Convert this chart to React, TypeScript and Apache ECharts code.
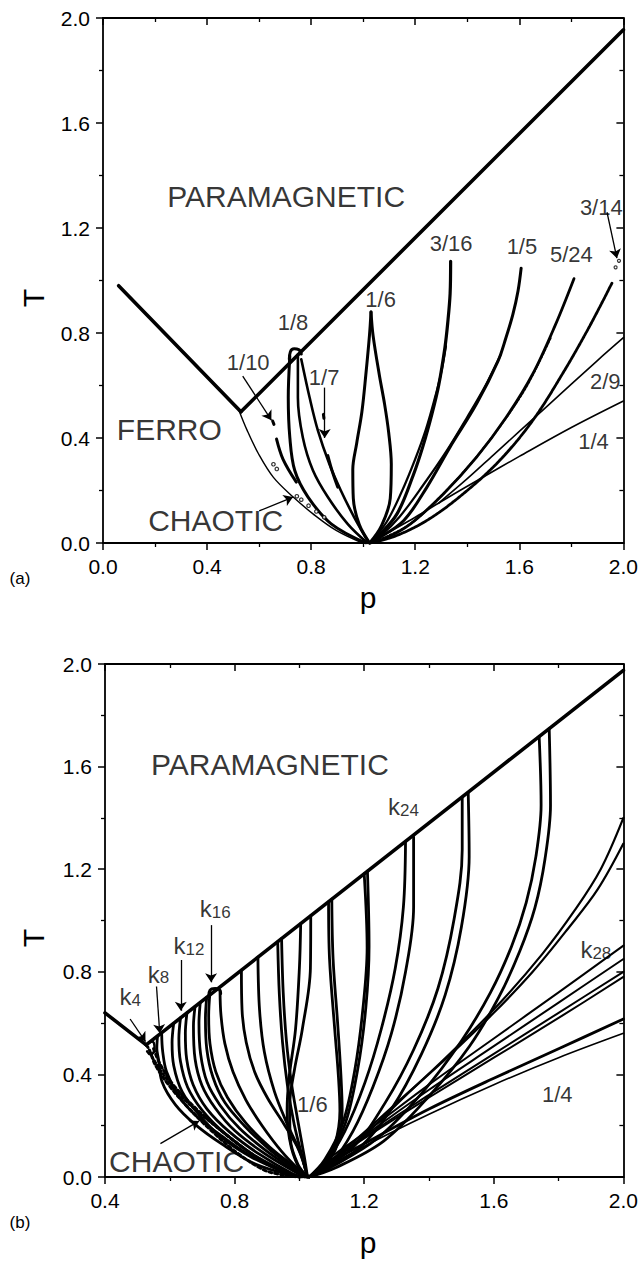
import React, { useEffect, useRef } from 'react';
import * as echarts from 'echarts';

type Pt = [number, number];
type Lbl = [string, number, number];

// ================= Panel (a) =================
const aParaLeft: Pt[] = [[0.06, 0.98], [0.53, 0.5]];
const aParaRight: Pt[] = [[0.53, 0.5], [2.0, 1.955]];
const aFerroChaotic: Pt[] = [[0.523, 0.504], [0.554, 0.429], [0.598, 0.339], [0.655, 0.25], [0.731, 0.175], [0.807, 0.111], [0.896, 0.048], [0.997, 0.0]];
const aCap18: Pt[] = [[0.716, 0.7], [0.72, 0.728], [0.735, 0.74], [0.752, 0.737], [0.762, 0.72]];
const a18Left: Pt[] = [[0.718, 0.712], [0.712, 0.554], [0.718, 0.402], [0.737, 0.276], [0.788, 0.175], [0.877, 0.073], [1.01, 0.0]];
const a18Mid: Pt[] = [[0.749, 0.718], [0.749, 0.554], [0.768, 0.402], [0.807, 0.276], [0.864, 0.175], [0.94, 0.073], [1.016, 0.0]];
const a18Right: Pt[] = [[0.762, 0.7], [0.794, 0.554], [0.826, 0.428], [0.87, 0.301], [0.914, 0.2], [0.965, 0.099], [1.022, 0.0]];
const a110Dash: Pt[] = [[0.652, 0.465], [0.657, 0.452]];
const a110Seg: Pt[] = [[0.667, 0.396], [0.692, 0.319], [0.743, 0.232]];
const a17Dash: Pt[] = [[0.847, 0.49], [0.849, 0.475]];
const a17Seg: Pt[] = [[0.864, 0.333], [0.882, 0.27], [0.902, 0.213]];
const a16Left: Pt[] = [[1.03, 0.88], [1.024, 0.79], [1.01, 0.64], [0.995, 0.5], [0.975, 0.38], [0.96, 0.28], [0.962, 0.17], [0.985, 0.07], [1.025, 0.0]];
const a16Right: Pt[] = [[1.03, 0.88], [1.038, 0.79], [1.062, 0.64], [1.082, 0.53], [1.098, 0.42], [1.108, 0.3], [1.104, 0.17], [1.07, 0.065], [1.025, 0.0]];
const a316A: Pt[] = [[1.336, 1.073], [1.334, 0.95], [1.325, 0.84], [1.314, 0.744], [1.29, 0.6], [1.264, 0.491], [1.23, 0.37], [1.194, 0.263], [1.13, 0.111], [1.054, 0.023], [1.025, 0.0]];
const a316B: Pt[] = [[1.318, 0.75], [1.3, 0.65], [1.272, 0.54], [1.24, 0.43], [1.2, 0.32], [1.15, 0.2], [1.09, 0.08], [1.025, 0.0]];
const a15A: Pt[] = [[1.607, 1.047], [1.595, 0.96], [1.575, 0.87], [1.548, 0.78], [1.518, 0.693], [1.435, 0.529], [1.333, 0.364], [1.245, 0.213], [1.156, 0.086], [1.054, 0.015], [1.025, 0.0]];
const a15B: Pt[] = [[1.53, 0.72], [1.47, 0.6], [1.4, 0.48], [1.32, 0.35], [1.23, 0.22], [1.14, 0.1], [1.07, 0.03], [1.025, 0.0]];
const a524A: Pt[] = [[1.81, 1.007], [1.739, 0.832], [1.651, 0.643], [1.549, 0.478], [1.435, 0.326], [1.308, 0.187], [1.182, 0.073], [1.08, 0.015], [1.025, 0.0]];
const a524B: Pt[] = [[1.72, 0.78], [1.63, 0.6], [1.53, 0.45], [1.42, 0.31], [1.3, 0.18], [1.17, 0.065], [1.025, 0.0]];
const a314: Pt[] = [[1.956, 0.99], [1.867, 0.82], [1.765, 0.643], [1.651, 0.466], [1.524, 0.314], [1.384, 0.187], [1.245, 0.086], [1.12, 0.025], [1.025, 0.0]];
const a314Dots: Pt[] = [[1.97, 1.05], [1.983, 1.075]];
const a29: Pt[] = [[1.29, 0.152], [1.4, 0.245], [1.5, 0.335], [1.7, 0.515], [1.9, 0.695], [2.0, 0.782]];
const a14: Pt[] = [[1.025, 0.0], [1.1, 0.042], [1.2, 0.098], [1.3, 0.158], [1.45, 0.245], [1.6, 0.33], [1.8, 0.44], [2.0, 0.541]];
const aChaosDots: Pt[] = [[0.655, 0.3], [0.668, 0.282], [0.745, 0.178], [0.762, 0.165], [0.79, 0.142], [0.82, 0.12], [0.85, 0.098]];
const aArrows: Pt[][] = [
  [[0.537, 0.636], [0.647, 0.468]],
  [[0.852, 0.592], [0.852, 0.4]],
  [[0.6, 0.122], [0.73, 0.175]],
  [[1.937, 1.26], [1.975, 1.085]],
];
const aRegionLabels: Lbl[] = [['PARAMAGNETIC', 0.704, 1.32], ['FERRO', 0.255, 0.432], ['CHAOTIC', 0.433, 0.085]];
const aFracLabels: Lbl[] = [
  ['1/10', 0.558, 0.687], ['1/8', 0.73, 0.839], ['1/7', 0.85, 0.63], ['1/6', 1.067, 0.927],
  ['3/16', 1.338, 1.14], ['1/5', 1.61, 1.13], ['5/24', 1.8, 1.1], ['3/14', 1.915, 1.28],
  ['2/9', 1.93, 0.615], ['1/4', 1.885, 0.385],
];

// ================= Panel (b) =================
const bParaLeft: Pt[] = [[0.4, 0.64], [0.527, 0.515]];
const bParaRight: Pt[] = [[0.527, 0.515], [2.0, 1.975]];
const bChaos1: Pt[] = [[0.527, 0.515], [0.536, 0.498], [0.556, 0.435], [0.597, 0.358], [0.658, 0.269], [0.729, 0.18], [0.811, 0.091], [0.892, 0.027], [0.95, 0.008], [1.0, 0.0]];
const bChaos2: Pt[] = [[0.55, 0.5], [0.57, 0.44], [0.61, 0.36], [0.67, 0.28], [0.74, 0.2], [0.82, 0.12], [0.9, 0.05], [1.0, 0.0]];
const bChaos3: Pt[] = [[0.545, 0.47], [0.58, 0.4], [0.63, 0.32], [0.7, 0.24], [0.78, 0.16], [0.86, 0.085], [0.95, 0.02]];
const bK4Knot: Pt[] = [[0.527, 0.515], [0.545, 0.528], [0.553, 0.5], [0.54, 0.478], [0.53, 0.49]];
const bK8A: Pt[] = [[0.562, 0.548], [0.56, 0.5], [0.565, 0.46], [0.576, 0.371], [0.617, 0.282], [0.678, 0.205], [0.76, 0.129], [0.862, 0.052], [0.984, 0.004]];
const bK8B: Pt[] = [[0.575, 0.555], [0.578, 0.49], [0.59, 0.41], [0.625, 0.32], [0.68, 0.24], [0.76, 0.16], [0.86, 0.075], [0.99, 0.005]];
const bT612: Pt[] = [[0.612, 0.599], [0.607, 0.524], [0.612, 0.435], [0.638, 0.333], [0.689, 0.244], [0.76, 0.154], [0.851, 0.078], [0.973, 0.008], [1.0, 0.0]];
const bT633: Pt[] = [[0.633, 0.62], [0.628, 0.54], [0.633, 0.45], [0.655, 0.35], [0.7, 0.26], [0.77, 0.17], [0.86, 0.085], [0.975, 0.01], [1.005, 0.0]];
const bT653: Pt[] = [[0.653, 0.64], [0.648, 0.56], [0.652, 0.46], [0.672, 0.36], [0.715, 0.265], [0.785, 0.175], [0.875, 0.09], [0.98, 0.012], [1.01, 0.0]];
const bT678: Pt[] = [[0.678, 0.665], [0.673, 0.588], [0.678, 0.46], [0.699, 0.358], [0.74, 0.269], [0.801, 0.18], [0.893, 0.091], [0.994, 0.014], [1.015, 0.0]];
const bT694: Pt[] = [[0.694, 0.681], [0.69, 0.6], [0.695, 0.48], [0.715, 0.37], [0.755, 0.28], [0.815, 0.19], [0.9, 0.1], [0.995, 0.018], [1.018, 0.0]];
const bT714: Pt[] = [[0.714, 0.7], [0.71, 0.62], [0.714, 0.5], [0.733, 0.39], [0.77, 0.29], [0.83, 0.2], [0.91, 0.105], [1.0, 0.02], [1.02, 0.0]];
const bCap16: Pt[] = [[0.72, 0.705], [0.724, 0.728], [0.74, 0.735], [0.752, 0.732], [0.757, 0.715]];
const bK16L: Pt[] = [[0.724, 0.72], [0.72, 0.63], [0.724, 0.52], [0.742, 0.41], [0.778, 0.31], [0.835, 0.21], [0.91, 0.115], [1.0, 0.025], [1.022, 0.0]];
const bK16R: Pt[] = [[0.755, 0.725], [0.758, 0.63], [0.77, 0.52], [0.795, 0.41], [0.835, 0.3], [0.885, 0.2], [0.945, 0.1], [1.005, 0.02], [1.024, 0.0]];
const bT821: Pt[] = [[0.821, 0.806], [0.823, 0.651], [0.836, 0.524], [0.862, 0.409], [0.902, 0.307], [0.953, 0.205], [0.999, 0.103], [1.025, 0.0]];
const bT872: Pt[] = [[0.872, 0.857], [0.877, 0.651], [0.892, 0.486], [0.923, 0.333], [0.963, 0.205], [1.004, 0.091], [1.025, 0.0]];
const bT933: Pt[] = [[0.933, 0.917], [0.938, 0.715], [0.948, 0.524], [0.963, 0.358], [0.984, 0.205], [1.009, 0.078], [1.025, 0.0]];
const bT945: Pt[] = [[0.945, 0.929], [0.95, 0.72], [0.96, 0.53], [0.975, 0.37], [0.995, 0.22], [1.015, 0.08], [1.025, 0.0]];
const bT1004: Pt[] = [[1.004, 0.988], [1.0, 0.815], [0.988, 0.576], [0.968, 0.385], [0.962, 0.258], [0.975, 0.115], [1.009, 0.01], [1.025, 0.0]];
const b16L: Pt[] = [[1.035, 1.018], [1.034, 0.815], [1.009, 0.576], [0.985, 0.42], [0.97, 0.28], [0.972, 0.15], [0.995, 0.05], [1.025, 0.0]];
const b16R: Pt[] = [[1.09, 1.073], [1.093, 0.85], [1.109, 0.576], [1.12, 0.4], [1.125, 0.258], [1.11, 0.13], [1.075, 0.045], [1.03, 0.0]];
const b16R2: Pt[] = [[1.1, 1.083], [1.104, 0.85], [1.118, 0.6], [1.128, 0.4], [1.132, 0.26], [1.118, 0.13], [1.08, 0.045], [1.03, 0.0]];
const bT120: Pt[] = [[1.2, 1.182], [1.209, 0.894], [1.196, 0.656], [1.171, 0.417], [1.134, 0.21], [1.078, 0.067], [1.03, 0.0]];
const bT121: Pt[] = [[1.21, 1.192], [1.215, 0.9], [1.205, 0.66], [1.18, 0.42], [1.142, 0.21], [1.085, 0.067], [1.03, 0.0]];
const bT133: Pt[] = [[1.3275, 1.306], [1.321, 1.053], [1.296, 0.815], [1.2525, 0.576], [1.2025, 0.369], [1.14, 0.178], [1.0775, 0.051], [1.03, 0.0]];
const bT135: Pt[] = [[1.3525, 1.326], [1.3525, 1.053], [1.3275, 0.799], [1.284, 0.56], [1.2275, 0.353], [1.165, 0.178], [1.096, 0.051], [1.03, 0.0]];
const bT150: Pt[] = [[1.5025, 1.479], [1.5025, 1.276], [1.4775, 1.006], [1.4275, 0.735], [1.3525, 0.496], [1.265, 0.29], [1.165, 0.115], [1.03, 0.0]];
const bT152: Pt[] = [[1.521, 1.499], [1.524, 1.25], [1.5, 0.975], [1.45, 0.71], [1.377, 0.48], [1.284, 0.265], [1.178, 0.106], [1.03, 0.0]];
const bT174: Pt[] = [[1.74, 1.717], [1.746, 1.45], [1.73, 1.25], [1.7, 1.07], [1.655, 0.9], [1.59, 0.72], [1.5, 0.53], [1.38, 0.33], [1.24, 0.15], [1.1, 0.04], [1.03, 0.0]];
const bT177: Pt[] = [[1.771, 1.747], [1.775, 1.45], [1.758, 1.24], [1.727, 1.05], [1.68, 0.88], [1.615, 0.7], [1.525, 0.51], [1.4, 0.315], [1.26, 0.14], [1.11, 0.035], [1.03, 0.0]];
const bEdge140: Pt[] = [[1.03, 0.0], [1.18, 0.14], [1.33, 0.32], [1.48, 0.5], [1.62, 0.68], [1.75, 0.87], [1.85, 1.04], [1.93, 1.2], [2.0, 1.4]];
const bEdge130: Pt[] = [[1.03, 0.0], [1.16, 0.13], [1.31, 0.3], [1.46, 0.47], [1.6, 0.64], [1.72, 0.8], [1.83, 0.97], [1.92, 1.12], [2.0, 1.3]];
const bK28A: Pt[] = [[1.03, 0.0], [1.1, 0.08], [1.2, 0.17], [1.4, 0.36], [1.6, 0.54], [1.8, 0.72], [2.0, 0.902]];
const bK28B: Pt[] = [[1.03, 0.0], [1.2, 0.16], [1.4, 0.34], [1.6, 0.51], [1.8, 0.68], [2.0, 0.85]];
const bK28C: Pt[] = [[1.03, 0.0], [1.2, 0.155], [1.4, 0.32], [1.6, 0.48], [1.8, 0.64], [2.0, 0.8]];
const bK28D: Pt[] = [[1.03, 0.0], [1.2, 0.15], [1.4, 0.31], [1.6, 0.465], [1.8, 0.62], [2.0, 0.78]];
const b14A: Pt[] = [[1.03, 0.0], [1.1, 0.06], [1.2, 0.13], [1.4, 0.265], [1.6, 0.385], [1.8, 0.5], [2.0, 0.616]];
const b14B: Pt[] = [[1.03, 0.0], [1.2, 0.12], [1.4, 0.245], [1.6, 0.36], [1.8, 0.465], [2.0, 0.56]];
const bArrows: Pt[][] = [
  [[0.4775, 0.616], [0.525, 0.528]],
  [[0.559, 0.743], [0.569, 0.56]],
  [[0.634, 0.846], [0.634, 0.648]],
  [[0.7275, 0.982], [0.7275, 0.759]],
  [[0.571, 0.13], [0.69, 0.218]],
];
const bRegionLabels: Lbl[] = [['PARAMAGNETIC', 0.909, 1.61], ['CHAOTIC', 0.621, 0.059]];
const bFracLabels: Lbl[] = [['1/6', 1.04, 0.282], ['1/4', 1.796, 0.321]];
const bKLabels: Lbl[] = [['4', 0.4775, 0.703], ['8', 0.565, 0.791], ['12', 0.659, 0.902], ['16', 0.74, 1.045], ['24', 1.321, 1.443], ['28', 1.915, 0.886]];

const xTicksA = { min: 0, max: 2, interval: 0.4 };
const xTicksB = { min: 0.4, max: 2, interval: 0.4 };
const yTicks = { min: 0, max: 2, interval: 0.4 };

const FONT = '"Liberation Sans", Arial, Helvetica, sans-serif';

function App() {
  const ref = useRef<HTMLDivElement>(null);
  useEffect(() => {
    if (!ref.current) return;
    const chart = echarts.init(ref.current, undefined, { renderer: 'svg' });

    const mkAxis = (gridIndex: number, ticks: any, position: string, inside: boolean, showLabel: boolean) => ({
      type: 'value', gridIndex, min: ticks.min, max: ticks.max, interval: ticks.interval, position,
      axisLine: { show: true, onZero: false, lineStyle: { color: '#000', width: 1.8 } },
      axisTick: { show: true, inside, length: 7, lineStyle: { color: '#000', width: 1.5 } },
      minorTick: { show: true, splitNumber: 2, length: 4, lineStyle: { color: '#000', width: 1.3 } },
      splitLine: { show: false }, minorSplitLine: { show: false },
      axisLabel: { show: showLabel, formatter: (v: number) => v.toFixed(1), color: '#000', fontSize: 21, fontFamily: FONT, margin: 13 },
    });

    const series: any[] = [];
    const ln = (data: Pt[], panel: number, width: number, smooth: number | boolean = 0.35, type: any = 'solid') => {
      series.push({
        type: 'line', xAxisIndex: panel * 2, yAxisIndex: panel * 2, data, symbol: 'none', showSymbol: false,
        smooth, silent: true, z: 3, lineStyle: { color: '#000', width, type, cap: 'round', join: 'round' },
      });
    };
    const dots = (data: Pt[], panel: number, size: number) => {
      series.push({ type: 'scatter', xAxisIndex: panel * 2, yAxisIndex: panel * 2, data, symbol: 'circle', symbolSize: size, silent: true, itemStyle: { color: '#fff', borderColor: '#000', borderWidth: 1.2 }, z: 4 });
    };
    const arrows = (data: Pt[][], panel: number) => {
      series.push({
        type: 'lines', coordinateSystem: 'cartesian2d', xAxisIndex: panel * 2, yAxisIndex: panel * 2, silent: true, z: 6,
        symbol: ['none', 'arrow'], symbolSize: [0, 9], lineStyle: { color: '#000', width: 1.3, opacity: 1, curveness: 0 },
        data: data.map((c) => ({ coords: c })),
      });
    };
    const labels = (items: Lbl[], panel: number, fontSize: number) => {
      series.push({
        type: 'scatter', xAxisIndex: panel * 2, yAxisIndex: panel * 2, symbolSize: 0, silent: true, z: 7,
        data: items.map(([t, p, T]) => ({ name: t, value: [p, T] })),
        label: { show: true, position: 'inside', formatter: (prm: any) => prm.name, color: '#000', fontSize, fontFamily: FONT },
      });
    };
    const kLabels = (items: Lbl[], panel: number) => {
      series.push({
        type: 'scatter', xAxisIndex: panel * 2, yAxisIndex: panel * 2, symbolSize: 0, silent: true, z: 7,
        data: items.map(([t, p, T]) => ({ name: t, value: [p, T] })),
        label: {
          show: true, position: 'inside', formatter: (prm: any) => `{k|k}{s|${prm.name}}`,
          rich: {
            k: { fontSize: 24, fontFamily: FONT, color: '#000', lineHeight: 24, verticalAlign: 'top' },
            s: { fontSize: 17, fontFamily: FONT, color: '#000', lineHeight: 17, padding: [14, 0, 0, 0], verticalAlign: 'bottom' },
          },
        },
      });
    };

    // panel a
    ln(aParaLeft, 0, 3.6, false); ln(aParaRight, 0, 3.6, false);
    ln(aFerroChaotic, 0, 1.4);
    ln(aCap18, 0, 3, 0.5);
    ln(a18Left, 0, 3); ln(a18Mid, 0, 2.6); ln(a18Right, 0, 2.6);
    ln(a110Dash, 0, 3, false); ln(a110Seg, 0, 3);
    ln(a17Dash, 0, 3, false); ln(a17Seg, 0, 3);
    ln(a16Left, 0, 3); ln(a16Right, 0, 3);
    ln(a316A, 0, 3.2); ln(a316B, 0, 2.2);
    ln(a15A, 0, 3); ln(a15B, 0, 2.2);
    ln(a524A, 0, 2.8); ln(a524B, 0, 2, 0.35, 'dotted');
    ln(a314, 0, 2.8, 0.35, [3, 1]);
    dots(a314Dots, 0, 3);
    ln(a29, 0, 1.6); ln(a14, 0, 1.6);
    dots(aChaosDots, 0, 3.5);
    arrows(aArrows, 0);
    labels(aRegionLabels, 0, 30);
    labels(aFracLabels, 0, 22);

    // panel b
    ln(bParaLeft, 1, 3.6, false); ln(bParaRight, 1, 3.6, false);
    ln(bChaos1, 1, 3, 0.35, 'dotted'); ln(bChaos2, 1, 3, 0.35, 'dotted'); ln(bChaos3, 1, 2.5, 0.35, 'dotted');
    ln(bK4Knot, 1, 2.5, 0.5);
    for (const d of [bK8A, bK8B, bT612, bT633, bT653, bT678, bT694, bT714, bK16L, bK16R, bT821, bT872, bT933, bT945, bT1004, b16L, b16R, b16R2, bT120, bT121, bT133, bT135, bT150, bT152, bT174, bT177]) ln(d, 1, 2.8);
    ln(bCap16, 1, 3, 0.5);
    ln(bEdge140, 1, 2.2); ln(bEdge130, 1, 2.2);
    ln(bK28A, 1, 2); ln(bK28B, 1, 2); ln(bK28C, 1, 2); ln(bK28D, 1, 2);
    ln(b14A, 1, 2.8); ln(b14B, 1, 1.6);
    arrows(bArrows, 1);
    labels(bRegionLabels, 1, 30);
    labels(bFracLabels, 1, 22);
    kLabels(bKLabels, 1);

    const txt = (text: string, x: number, y: number, fontSize: number, rotation = 0) => ({
      type: 'text', x, y, rotation, silent: true,
      style: { text, fontSize, fontFamily: FONT, fill: '#000', align: 'center', verticalAlign: 'middle' },
    });

    chart.setOption({
      animation: false,
      backgroundColor: '#fff',
      grid: [
        { left: 103, top: 18, width: 528, height: 525 },
        { left: 105, top: 664, width: 524, height: 513 },
      ],
      xAxis: [
        mkAxis(0, xTicksA, 'bottom', false, true),
        mkAxis(0, xTicksA, 'top', true, false),
        mkAxis(1, xTicksB, 'bottom', false, true),
        mkAxis(1, xTicksB, 'top', true, false),
      ],
      yAxis: [
        mkAxis(0, yTicks, 'left', false, true),
        mkAxis(0, yTicks, 'right', true, false),
        mkAxis(1, yTicks, 'left', false, true),
        mkAxis(1, yTicks, 'right', true, false),
      ],
      graphic: [
        txt('T', 33, 298, 30, Math.PI / 2),
        txt('p', 368, 597, 30),
        txt('(a)', 20, 578, 17),
        txt('T', 33, 938, 30, Math.PI / 2),
        txt('p', 368, 1242, 30),
        txt('(b)', 20, 1222, 17),
      ],
      series,
    });
    return () => chart.dispose();
  }, []);
  return <div ref={ref} style={{ position: 'absolute', left: 0, top: 0, width: 641, height: 1273, background: '#fff' }} />;
}

export default App;
